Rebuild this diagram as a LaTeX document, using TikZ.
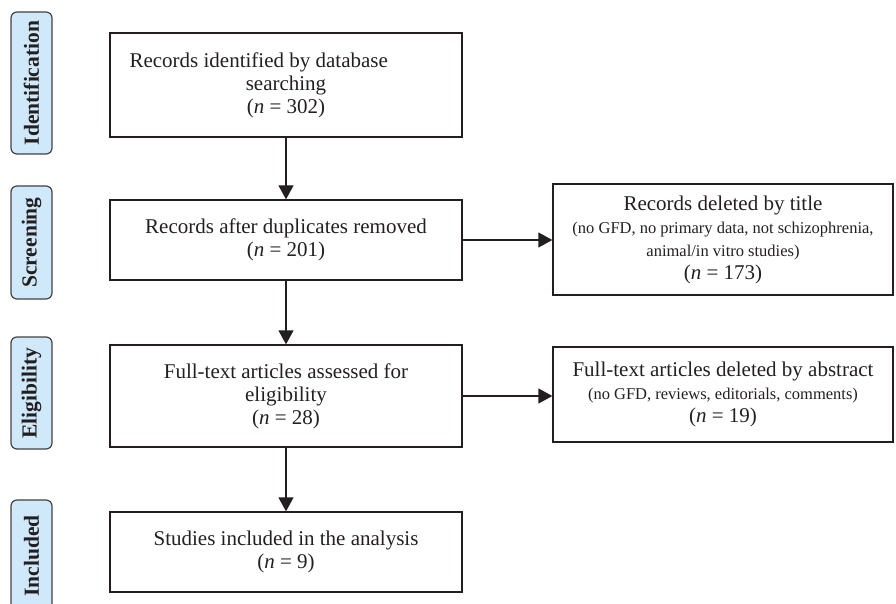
\documentclass[tikz,border=0pt]{standalone}
\usepackage{fontspec}
\setmainfont{Liberation Serif}
\usetikzlibrary{arrows.meta}
\definecolor{stagefill}{RGB}{207,233,250}
\definecolor{inkgray}{RGB}{35,31,32}
\newcommand{\maintxt}{\fontsize{21}{23}\selectfont}
\newcommand{\notetxt}{\fontsize{16.5}{20}\selectfont}

\begin{document}
\begin{tikzpicture}[x=1pt, y=-1pt,
  box/.style={draw=inkgray, line width=1.3pt, rectangle, minimum width=352pt,
    align=center, inner sep=0pt, text=inkgray, font=\maintxt},
  sidebox/.style={box, minimum width=340pt},
  stage/.style={draw=inkgray!85, fill=stagefill, rounded corners=6pt, line width=1.2pt,
    minimum height=41pt, inner sep=0pt, rotate=90, text=inkgray,
    font=\bfseries\fontsize{21.5}{24}\selectfont},
  flow/.style={draw=inkgray, line width=1.3pt, -{Triangle[length=14pt,width=15pt]}}]
\useasboundingbox (0,0) rectangle (896,604);

% stages on the left
\node [stage, minimum width=142pt] (idstage) at (31.5, 83) {Identification};
\node [stage, minimum width=113pt] (scstage) at (31.5, 242.5) {Screening};
\node [stage, minimum width=112pt] (elstage) at (31.5, 393) {Eligibility};
\node [stage, minimum width=112pt] (instage) at (31.5, 556) {Included};

% main column
\node [box, minimum height=104pt] (ident) at (286, 85)
  {Records identified by database\hspace*{2.6em}\\searching\\(\textit{n} = 302)};
\node [box, minimum height=80pt] (dupl) at (286, 240)
  {Records after duplicates removed\\(\textit{n} = 201)};
\node [box, minimum height=102pt] (full) at (286, 396)
  {Full-text articles assessed for\\eligibility\\(\textit{n} = 28)};
\node [box, minimum height=80pt] (incl) at (286, 552)
  {Studies included in the analysis\\(\textit{n} = 9)};

% excluded records
\node [sidebox, minimum height=111pt] (title) at (723, 239.5)
  {Records deleted by title\\
   \notetxt (no GFD, no primary data, not schizophrenia,\\
   \notetxt animal/in vitro studies)\\
   \maintxt (\textit{n} = 173)};
\node [sidebox, minimum height=95pt] (abstr) at (723, 394.5)
  {Full-text articles deleted by abstract\\
   \notetxt (no GFD, reviews, editorials, comments)\\
   \maintxt (\textit{n} = 19)};

\draw [flow] (ident) -- (dupl);
\draw [flow] (dupl) -- (full);
\draw [flow] (full) -- (incl);
\draw [flow] (dupl.east) -- (dupl.east -| title.west);
\draw [flow] (full.east) -- (full.east -| abstr.west);
\end{tikzpicture}
\end{document}
